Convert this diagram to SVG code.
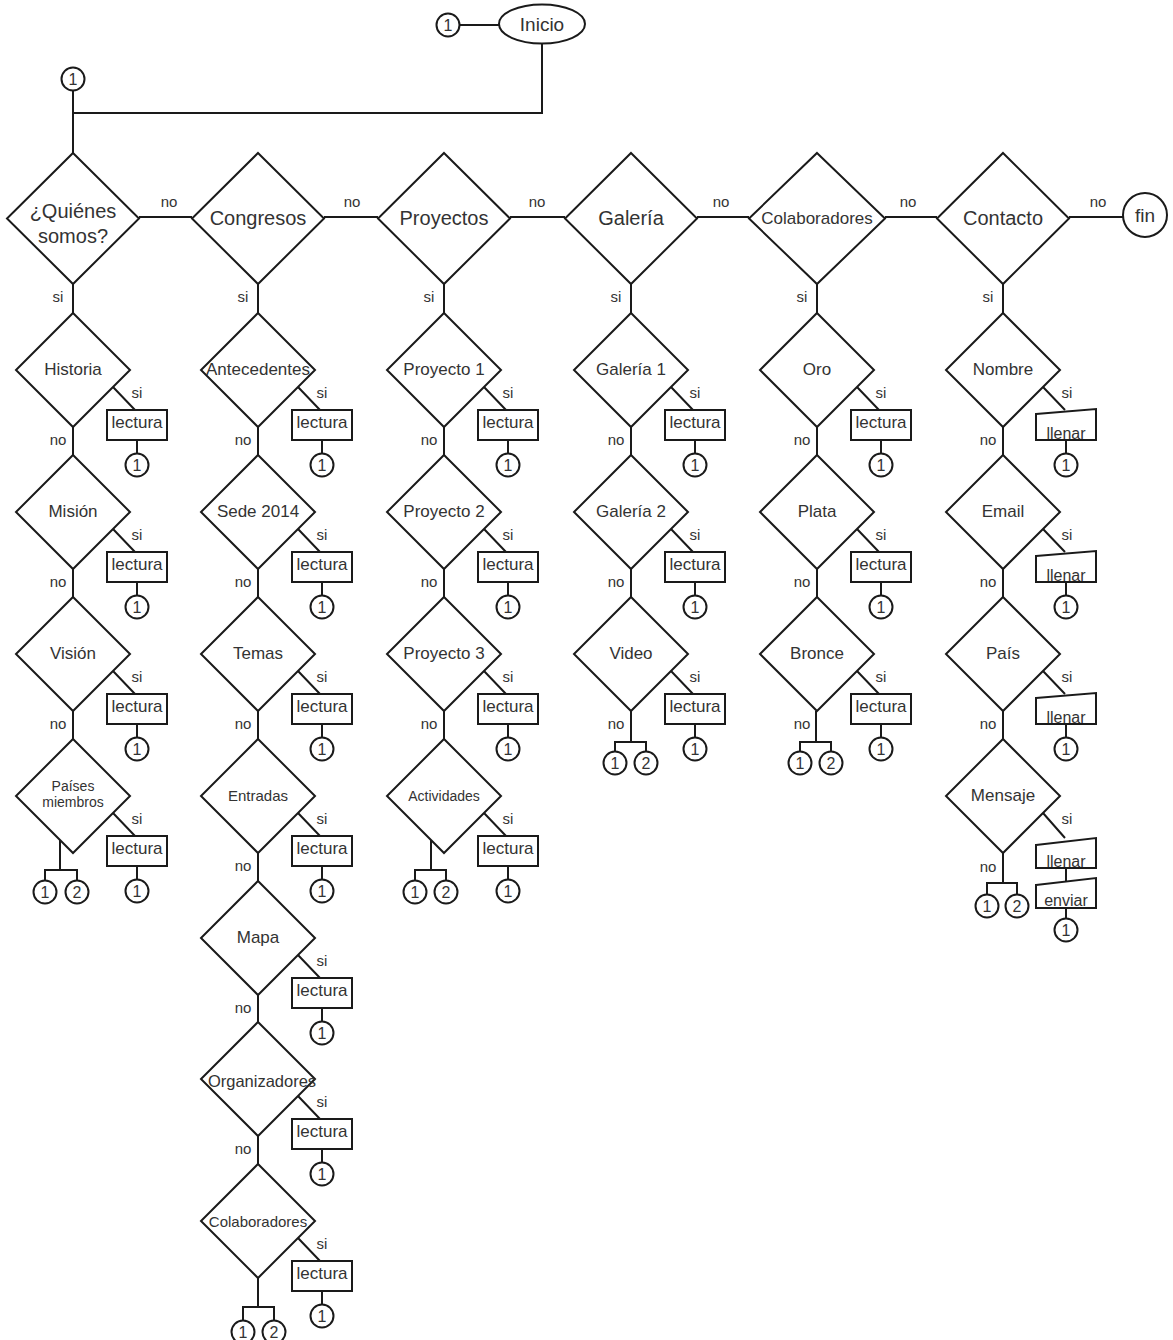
<svg xmlns="http://www.w3.org/2000/svg" width="1173" height="1340" viewBox="0 0 1173 1340">
<style>
.s{fill:#fff;stroke:#1a1a1a;stroke-width:2}
.c{fill:none;stroke:#1a1a1a;stroke-width:2}
text{font-family:"Liberation Sans",Arial,sans-serif;fill:#333;text-anchor:middle}
.m{font-size:20px}
.m2{font-size:17px}
.b{font-size:17px}
.sm{font-size:15px}
.xs{font-size:14px}
.n{font-size:16px}
.lb{font-size:15px}
</style>
<rect width="1173" height="1340" fill="#fff"/>
<g id="connectors">
<path class="c" d="M459.5,25H499M542,43.5V113H73M73,91V153"/>
<path class="c" d="M139,217H192M324,217H378M510,217H565M697,217H749M885,217H937M1069,217H1123"/>
<path class="c" d="M73,284V313M258,284V313M444,284V313M631,284V313M817,284V313M1003,284V313"/>
<!-- col 0 -->
<path class="c" d="M73,427V455M73,569V597M73,711V739"/>
<path class="c" d="M113,387L135,410M113,529L135,552M113,671L135,694M113,813L135,836"/>
<path class="c" d="M137,440V453.5M137,582V595.5M137,724V737.5M137,866V879.5"/>
<path class="c" d="M60,840V870M45,880.5V870H77V880.5"/>
<!-- col 1 -->
<path class="c" d="M258,427V455M258,569V597M258,711V739M258,853V881M258,995V1022M258,1136V1164"/>
<path class="c" d="M298,387L320,410M298,529L320,552M298,671L320,694M298,813L320,836M298,955L320,978M298,1096L320,1119M298,1238L320,1261"/>
<path class="c" d="M322,440V453.5M322,582V595.5M322,724V737.5M322,866V879.5M322,1008V1021.5M322,1149V1162.5M322,1291V1304.5"/>
<path class="c" d="M258,1278V1307M243,1320.5V1307H274V1320.5"/>
<!-- col 2 -->
<path class="c" d="M444,427V455M444,569V597M444,711V739"/>
<path class="c" d="M484,387L506,410M484,529L506,552M484,671L506,694M484,813L506,836"/>
<path class="c" d="M508,440V453.5M508,582V595.5M508,724V737.5M508,866V879.5"/>
<path class="c" d="M431,840V870M415,880.5V870H446V880.5"/>
<!-- col 3 -->
<path class="c" d="M631,427V455M631,569V597"/>
<path class="c" d="M671,387L693,410M671,529L693,552M671,671L693,694"/>
<path class="c" d="M695,440V453.5M695,582V595.5M695,724V737.5"/>
<path class="c" d="M631,711V742M615,751.5V742H646V751.5"/>
<!-- col 4 -->
<path class="c" d="M817,427V455M817,569V597"/>
<path class="c" d="M857,387L879,410M857,529L879,552M857,671L879,694"/>
<path class="c" d="M881,440V453.5M881,582V595.5M881,724V737.5"/>
<path class="c" d="M816,711V742M800,751.5V742H831V751.5"/>
<!-- col 5 -->
<path class="c" d="M1003,427V455M1003,569V597M1003,711V739"/>
<path class="c" d="M1043,387L1065,410M1043,529L1065,552M1043,671L1065,694M1043,813L1065,838"/>
<path class="c" d="M1066,440V453.5M1066,582V595.5M1066,724V737.5M1066,868V881M1066,908V918.5"/>
<path class="c" d="M1003,853V883M987,894.5V883H1017V894.5"/>
<g id="labels" class="lb">
<text x="169" y="207">no</text><text x="352" y="207">no</text><text x="537" y="207">no</text><text x="721" y="207">no</text><text x="908" y="207">no</text><text x="1098" y="207">no</text>
<text x="58" y="302">si</text><text x="243" y="302">si</text><text x="429" y="302">si</text><text x="616" y="302">si</text><text x="802" y="302">si</text><text x="988" y="302">si</text>
<text x="58" y="445">no</text><text x="58" y="587">no</text><text x="58" y="729">no</text>
<text x="137" y="398">si</text><text x="137" y="540">si</text><text x="137" y="682">si</text><text x="137" y="824">si</text>
<text x="243" y="445">no</text><text x="243" y="587">no</text><text x="243" y="729">no</text><text x="243" y="871">no</text><text x="243" y="1013">no</text><text x="243" y="1154">no</text>
<text x="322" y="398">si</text><text x="322" y="540">si</text><text x="322" y="682">si</text><text x="322" y="824">si</text><text x="322" y="966">si</text><text x="322" y="1107">si</text><text x="322" y="1249">si</text>
<text x="429" y="445">no</text><text x="429" y="587">no</text><text x="429" y="729">no</text>
<text x="508" y="398">si</text><text x="508" y="540">si</text><text x="508" y="682">si</text><text x="508" y="824">si</text>
<text x="616" y="445">no</text><text x="616" y="587">no</text><text x="616" y="729">no</text>
<text x="695" y="398">si</text><text x="695" y="540">si</text><text x="695" y="682">si</text>
<text x="802" y="445">no</text><text x="802" y="587">no</text><text x="802" y="729">no</text>
<text x="881" y="398">si</text><text x="881" y="540">si</text><text x="881" y="682">si</text>
<text x="988" y="445">no</text><text x="988" y="587">no</text><text x="988" y="729">no</text><text x="988" y="872">no</text>
<text x="1067" y="398">si</text><text x="1067" y="540">si</text><text x="1067" y="682">si</text><text x="1067" y="824">si</text>
</g>
</g>
<!-- top -->
<g id="start-conn"><circle class="s" cx="448" cy="25" r="11.5"/><text class="n" x="448" y="31">1</text></g>
<g id="inicio"><ellipse class="s" cx="542" cy="24" rx="43" ry="19.5"/><text class="m" x="542" y="31" style="font-size:19px">Inicio</text></g>
<g id="conn-top"><circle class="s" cx="73" cy="79" r="11.5"/><text class="n" x="73" y="85">1</text></g>
<g id="fin"><circle class="s" cx="1145" cy="215" r="22"/><text class="m" x="1145" y="222" style="font-size:19px">fin</text></g>
<!-- main row -->
<g id="quienes"><polygon class="s" points="73,153 139,218.5 73,284 7,218.5"/><text class="m" x="73" y="218">¿Quiénes</text><text class="m" x="73" y="243">somos?</text></g>
<g id="congresos"><polygon class="s" points="258,153 324,218.5 258,284 192,218.5"/><text class="m" x="258" y="225">Congresos</text></g>
<g id="proyectos"><polygon class="s" points="444,153 510,218.5 444,284 378,218.5"/><text class="m" x="444" y="225">Proyectos</text></g>
<g id="galeria"><polygon class="s" points="631,153 697,218.5 631,284 565,218.5"/><text class="m" x="631" y="225">Galería</text></g>
<g id="colaboradores"><polygon class="s" points="817,153 885,218.5 817,284 749,218.5"/><text class="m2" x="817" y="224">Colaboradores</text></g>
<g id="contacto"><polygon class="s" points="1003,153 1069,218.5 1003,284 937,218.5"/><text class="m" x="1003" y="225">Contacto</text></g>
<!-- col 0 -->
<g id="historia"><polygon class="s" points="73,313 130,370 73,427 16,370"/><text class="b" x="73" y="375">Historia</text></g>
<g id="mision"><polygon class="s" points="73,455 130,512 73,569 16,512"/><text class="b" x="73" y="517">Misión</text></g>
<g id="vision"><polygon class="s" points="73,597 130,654 73,711 16,654"/><text class="b" x="73" y="659">Visión</text></g>
<g id="paises"><polygon class="s" points="73,739 130,796 73,853 16,796"/><text class="xs" x="73" y="791">Países</text><text class="xs" x="73" y="807">miembros</text></g>
<g id="c0-read">
<rect class="s" x="107" y="410" width="60" height="30"/><text class="b" x="137" y="428">lectura</text><circle class="s" cx="137" cy="465" r="11.5"/><text class="n" x="137" y="471">1</text>
<rect class="s" x="107" y="552" width="60" height="30"/><text class="b" x="137" y="570">lectura</text><circle class="s" cx="137" cy="607" r="11.5"/><text class="n" x="137" y="613">1</text>
<rect class="s" x="107" y="694" width="60" height="30"/><text class="b" x="137" y="712">lectura</text><circle class="s" cx="137" cy="749" r="11.5"/><text class="n" x="137" y="755">1</text>
<rect class="s" x="107" y="836" width="60" height="30"/><text class="b" x="137" y="854">lectura</text><circle class="s" cx="137" cy="891" r="11.5"/><text class="n" x="137" y="897">1</text>
<circle class="s" cx="45" cy="892" r="11.5"/><text class="n" x="45" y="898">1</text><circle class="s" cx="77" cy="892" r="11.5"/><text class="n" x="77" y="898">2</text>
</g>
<!-- col 1 -->
<g id="antecedentes"><polygon class="s" points="258,313 315,370 258,427 201,370"/><text class="b" x="258" y="375">Antecedentes</text></g>
<g id="sede"><polygon class="s" points="258,455 315,512 258,569 201,512"/><text class="b" x="258" y="517">Sede 2014</text></g>
<g id="temas"><polygon class="s" points="258,597 315,654 258,711 201,654"/><text class="b" x="258" y="659">Temas</text></g>
<g id="entradas"><polygon class="s" points="258,739 315,796 258,853 201,796"/><text class="sm" x="258" y="801">Entradas</text></g>
<g id="mapa"><polygon class="s" points="258,881 315,938 258,995 201,938"/><text class="b" x="258" y="943">Mapa</text></g>
<g id="organizadores"><polygon class="s" points="258,1022 315,1079 258,1136 201,1079"/><text class="b" x="262" y="1087" style="font-size:16.5px">Organizadores</text></g>
<g id="colab-cong"><polygon class="s" points="258,1164 315,1221 258,1278 201,1221"/><text class="sm" x="258" y="1227">Colaboradores</text></g>
<g id="c1-read">
<rect class="s" x="292" y="410" width="60" height="30"/><text class="b" x="322" y="428">lectura</text><circle class="s" cx="322" cy="465" r="11.5"/><text class="n" x="322" y="471">1</text>
<rect class="s" x="292" y="552" width="60" height="30"/><text class="b" x="322" y="570">lectura</text><circle class="s" cx="322" cy="607" r="11.5"/><text class="n" x="322" y="613">1</text>
<rect class="s" x="292" y="694" width="60" height="30"/><text class="b" x="322" y="712">lectura</text><circle class="s" cx="322" cy="749" r="11.5"/><text class="n" x="322" y="755">1</text>
<rect class="s" x="292" y="836" width="60" height="30"/><text class="b" x="322" y="854">lectura</text><circle class="s" cx="322" cy="891" r="11.5"/><text class="n" x="322" y="897">1</text>
<rect class="s" x="292" y="978" width="60" height="30"/><text class="b" x="322" y="996">lectura</text><circle class="s" cx="322" cy="1033" r="11.5"/><text class="n" x="322" y="1039">1</text>
<rect class="s" x="292" y="1119" width="60" height="30"/><text class="b" x="322" y="1137">lectura</text><circle class="s" cx="322" cy="1174" r="11.5"/><text class="n" x="322" y="1180">1</text>
<rect class="s" x="292" y="1261" width="60" height="30"/><text class="b" x="322" y="1279">lectura</text><circle class="s" cx="322" cy="1316" r="11.5"/><text class="n" x="322" y="1322">1</text>
<circle class="s" cx="243" cy="1332" r="11.5"/><text class="n" x="243" y="1338">1</text><circle class="s" cx="274" cy="1332" r="11.5"/><text class="n" x="274" y="1338">2</text>
</g>
<!-- col 2 -->
<g id="proy1"><polygon class="s" points="444,313 501,370 444,427 387,370"/><text class="b" x="444" y="375">Proyecto 1</text></g>
<g id="proy2"><polygon class="s" points="444,455 501,512 444,569 387,512"/><text class="b" x="444" y="517">Proyecto 2</text></g>
<g id="proy3"><polygon class="s" points="444,597 501,654 444,711 387,654"/><text class="b" x="444" y="659">Proyecto 3</text></g>
<g id="actividades"><polygon class="s" points="444,739 501,796 444,853 387,796"/><text class="xs" x="444" y="801">Actividades</text></g>
<g id="c2-read">
<rect class="s" x="478" y="410" width="60" height="30"/><text class="b" x="508" y="428">lectura</text><circle class="s" cx="508" cy="465" r="11.5"/><text class="n" x="508" y="471">1</text>
<rect class="s" x="478" y="552" width="60" height="30"/><text class="b" x="508" y="570">lectura</text><circle class="s" cx="508" cy="607" r="11.5"/><text class="n" x="508" y="613">1</text>
<rect class="s" x="478" y="694" width="60" height="30"/><text class="b" x="508" y="712">lectura</text><circle class="s" cx="508" cy="749" r="11.5"/><text class="n" x="508" y="755">1</text>
<rect class="s" x="478" y="836" width="60" height="30"/><text class="b" x="508" y="854">lectura</text><circle class="s" cx="508" cy="891" r="11.5"/><text class="n" x="508" y="897">1</text>
<circle class="s" cx="415" cy="892" r="11.5"/><text class="n" x="415" y="898">1</text><circle class="s" cx="446" cy="892" r="11.5"/><text class="n" x="446" y="898">2</text>
</g>
<!-- col 3 -->
<g id="gal1"><polygon class="s" points="631,313 688,370 631,427 574,370"/><text class="b" x="631" y="375">Galería 1</text></g>
<g id="gal2"><polygon class="s" points="631,455 688,512 631,569 574,512"/><text class="b" x="631" y="517">Galería 2</text></g>
<g id="video"><polygon class="s" points="631,597 688,654 631,711 574,654"/><text class="b" x="631" y="659">Video</text></g>
<g id="c3-read">
<rect class="s" x="665" y="410" width="60" height="30"/><text class="b" x="695" y="428">lectura</text><circle class="s" cx="695" cy="465" r="11.5"/><text class="n" x="695" y="471">1</text>
<rect class="s" x="665" y="552" width="60" height="30"/><text class="b" x="695" y="570">lectura</text><circle class="s" cx="695" cy="607" r="11.5"/><text class="n" x="695" y="613">1</text>
<rect class="s" x="665" y="694" width="60" height="30"/><text class="b" x="695" y="712">lectura</text><circle class="s" cx="695" cy="749" r="11.5"/><text class="n" x="695" y="755">1</text>
<circle class="s" cx="615" cy="763" r="11.5"/><text class="n" x="615" y="769">1</text><circle class="s" cx="646" cy="763" r="11.5"/><text class="n" x="646" y="769">2</text>
</g>
<!-- col 4 -->
<g id="oro"><polygon class="s" points="817,313 874,370 817,427 760,370"/><text class="b" x="817" y="375">Oro</text></g>
<g id="plata"><polygon class="s" points="817,455 874,512 817,569 760,512"/><text class="b" x="817" y="517">Plata</text></g>
<g id="bronce"><polygon class="s" points="817,597 874,654 817,711 760,654"/><text class="b" x="817" y="659">Bronce</text></g>
<g id="c4-read">
<rect class="s" x="851" y="410" width="60" height="30"/><text class="b" x="881" y="428">lectura</text><circle class="s" cx="881" cy="465" r="11.5"/><text class="n" x="881" y="471">1</text>
<rect class="s" x="851" y="552" width="60" height="30"/><text class="b" x="881" y="570">lectura</text><circle class="s" cx="881" cy="607" r="11.5"/><text class="n" x="881" y="613">1</text>
<rect class="s" x="851" y="694" width="60" height="30"/><text class="b" x="881" y="712">lectura</text><circle class="s" cx="881" cy="749" r="11.5"/><text class="n" x="881" y="755">1</text>
<circle class="s" cx="800" cy="763" r="11.5"/><text class="n" x="800" y="769">1</text><circle class="s" cx="831" cy="763" r="11.5"/><text class="n" x="831" y="769">2</text>
</g>
<!-- col 5 -->
<g id="nombre"><polygon class="s" points="1003,313 1060,370 1003,427 946,370"/><text class="b" x="1003" y="375">Nombre</text></g>
<g id="email"><polygon class="s" points="1003,455 1060,512 1003,569 946,512"/><text class="b" x="1003" y="517">Email</text></g>
<g id="pais"><polygon class="s" points="1003,597 1060,654 1003,711 946,654"/><text class="b" x="1003" y="659">País</text></g>
<g id="mensaje"><polygon class="s" points="1003,739 1060,796 1003,853 946,796"/><text class="b" x="1003" y="801">Mensaje</text></g>
<g id="c5-input">
<polygon class="s" points="1036,414 1096,409 1096,440 1036,440"/><text class="n" x="1066" y="439">llenar</text><circle class="s" cx="1066" cy="465" r="11.5"/><text class="n" x="1066" y="471">1</text>
<polygon class="s" points="1036,556 1096,551 1096,582 1036,582"/><text class="n" x="1066" y="581">llenar</text><circle class="s" cx="1066" cy="607" r="11.5"/><text class="n" x="1066" y="613">1</text>
<polygon class="s" points="1036,698 1096,693 1096,724 1036,724"/><text class="n" x="1066" y="723">llenar</text><circle class="s" cx="1066" cy="749" r="11.5"/><text class="n" x="1066" y="755">1</text>
<polygon class="s" points="1036,845 1096,838 1096,868 1036,868"/><text class="n" x="1066" y="867">llenar</text>
<polygon class="s" points="1036,885 1096,878 1096,908 1036,908"/><text class="n" x="1066" y="906">enviar</text><circle class="s" cx="1066" cy="930" r="11.5"/><text class="n" x="1066" y="936">1</text>
<circle class="s" cx="987" cy="906" r="11.5"/><text class="n" x="987" y="912">1</text><circle class="s" cx="1017" cy="906" r="11.5"/><text class="n" x="1017" y="912">2</text>
</g>
</svg>
